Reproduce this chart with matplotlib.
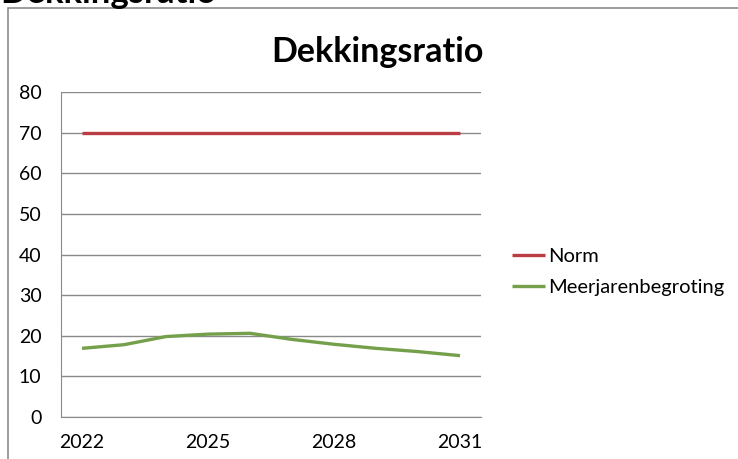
import matplotlib
matplotlib.use("Agg")
import matplotlib.pyplot as plt
from matplotlib.patches import Rectangle

years = [2022, 2023, 2024, 2025, 2026, 2027, 2028, 2029, 2030, 2031]
norm = [70, 70, 70, 70, 70, 70, 70, 70, 70, 70]
meerjaren = [16.9, 17.8, 19.8, 20.4, 20.6, 19.1, 17.9, 16.9, 16.1, 15.1]
xtick_labels = ["2022", "2025", "2028", "2031"]
yticks = [0, 10, 20, 30, 40, 50, 60, 70, 80]

plt.rcParams['font.family'] = ['Lato', 'DejaVu Sans']

W, H = 738, 459
fig = plt.figure(figsize=(W / 100, H / 100), dpi=100)

# outer frame (chart border)
fig.patches.append(Rectangle((8 / W, -0.1), 1.0, 1 - 8 / H + 0.1, transform=fig.transFigure,
                             fill=False, edgecolor="#8c8c8c", linewidth=1.2))

# cut-off heading at top left
fig.text(0 / W, 1 - 3 / H, "Dekkingsratio", fontsize=25, fontweight="bold",
         ha="left", va="baseline", color="black")

ax = fig.add_axes([61 / W, 1 - 417 / H, (481 - 61) / W, (417 - 92) / H])
x = list(range(len(years)))
ax.plot(x, norm, color="#BC3C44", linewidth=2.4, label="Norm", solid_capstyle="butt")
ax.plot(x, meerjaren, color="#74A04C", linewidth=2.4, label="Meerjarenbegroting",
        solid_capstyle="butt")

ax.set_xlim(-0.5, len(years) - 0.5)
ax.set_ylim(0, 80)
ax.set_yticks(yticks)
ax.set_yticklabels([str(v) for v in yticks])
ax.set_xticks([years.index(int(t)) for t in xtick_labels])
ax.set_xticklabels(xtick_labels)
ax.tick_params(axis="both", length=0, labelsize=14, colors="black")
ax.tick_params(axis="y", pad=14)
ax.tick_params(axis="x", pad=12)
ax.grid(axis="y", color="#8a8a8a", linewidth=1.0)
ax.set_axisbelow(True)
for s in ["top", "right"]:
    ax.spines[s].set_visible(False)
ax.spines["left"].set_color("#8a8a8a")
ax.spines["bottom"].set_color("#8a8a8a")

fig.text(377 / W, 1 - 62 / H, "Dekkingsratio", fontsize=24.5, fontweight="bold",
         ha="center", va="baseline")

leg = fig.legend(loc="center left", bbox_to_anchor=(512 / W, 1 - 272 / H), frameon=False,
                 fontsize=14.5, handlelength=1.65, handletextpad=0.15, labelspacing=0.65,
                 borderpad=0, borderaxespad=0)

fig.savefig("out.png", dpi=100)
